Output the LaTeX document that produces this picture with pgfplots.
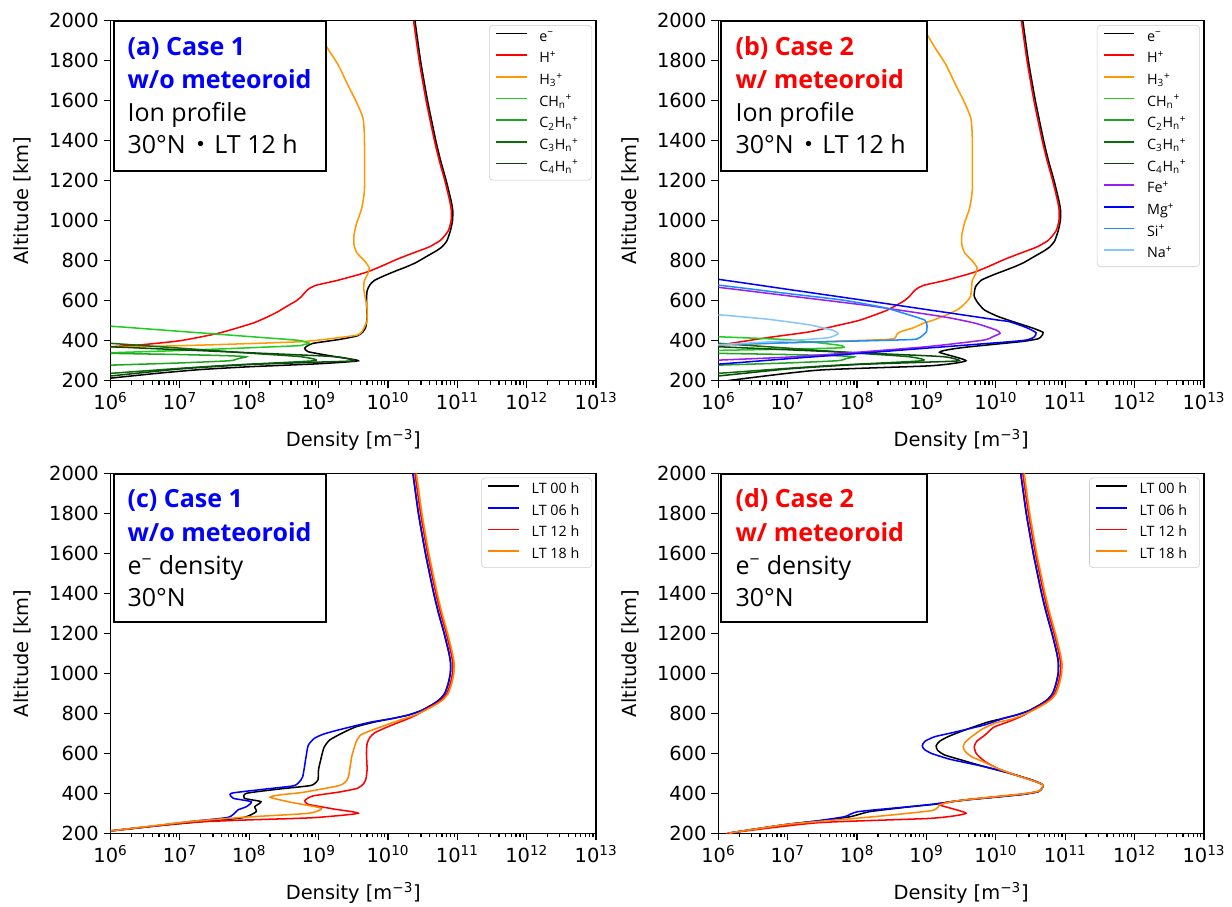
\documentclass[border=0pt]{standalone}
\usepackage{fontspec}
\setmainfont{DejaVu Sans}
\newfontfamily\bxfont{Open Sans}
\newfontfamily\cjkfont{Noto Sans CJK JP}
\usepackage{pgfplots}
\pgfplotsset{compat=1.18}
\definecolor{cH3}{HTML}{FF9900}
\definecolor{cCH}{HTML}{22CC22}
\definecolor{cC2}{HTML}{1FA51F}
\definecolor{cC3}{HTML}{0B6E0B}
\definecolor{cC4}{HTML}{0A4A0A}
\definecolor{cFe}{HTML}{9A1EF0}
\definecolor{cSi}{HTML}{1E8CFF}
\definecolor{cNa}{HTML}{88C6FA}
\definecolor{cLT}{HTML}{FF8800}
\newcommand\lga[1]{\makebox[33.5pt][l]{#1}}
\newcommand\lgc[1]{\makebox[39pt][l]{#1}}
\newcommand\sbs[1]{\textsubscript{#1}}
\newcommand\sps[1]{\textsuperscript{#1}}
\pgfkeys{/pgf/number format/.cd, assume math mode=true, 1000 sep={}}
\pgfplotsset{legend image code/.code={\draw[#1, line width=1.1pt] (0pt,3pt) -- (22pt,3pt);}}
\pgfplotsset{
 pnl/.style={
  scale only axis, width=349.6pt, height=259.2pt,
  xmin=1e6, xmax=1e13, ymin=200, ymax=2000,
  ytick={200,400,...,2000},
  scaled y ticks=false,
  tick align=outside, xtick pos=left, ytick pos=left,
  major tick length=5pt, minor tick length=3pt,
  every tick/.style={black, line width=0.9pt},
  axis line style={line width=1pt},
  tick label style={font=\fontsize{14}{16}\selectfont},
  label style={font=\fontsize{14}{16}\selectfont},
  xlabel={Density [m\sps{−3}]},
  ylabel={Altitude [km]},
  xlabel style={at={(axis description cs:0.5,-0.165)}, anchor=center},
  ylabel style={at={(axis description cs:-0.181,0.5)}, anchor=center},
  every axis plot/.append style={line width=1.1pt, smooth, tension=0.35},
  legend cell align=left,
  legend style={at={(0.9918,0.988)}, anchor=north east, draw=black!20,
    rounded corners=2.5pt, fill=white, font=\bxfont\fontsize{10.3}{12}\selectfont,
    inner xsep=4.3pt, inner ysep=4.5pt, row sep=6.8pt, column sep=8.6pt,
    nodes={inner sep=0pt, text height=6.8pt, text depth=2pt}},
 }
}
\begin{document}
\begin{tikzpicture}
\useasboundingbox (0,0) rectangle (887.04pt,653.04pt);
% ---------------- (a)
\begin{axis}[xmode=log, pnl, at={(79.56pt,378.9pt)}, anchor=south west,
  xtick={1e6,1e7,1e8,1e9,1e10,1e11,1e12,1e13},
  xticklabels={10\sps{6},10\sps{7},10\sps{8},10\sps{9},10\sps{10},10\sps{11},10\sps{12},10\sps{13}},
  minor xtick={2e6,3e6,4e6,5e6,6e6,7e6,8e6,9e6,2e7,3e7,4e7,5e7,6e7,7e7,8e7,9e7,2e8,3e8,4e8,5e8,6e8,7e8,8e8,9e8,2e9,3e9,4e9,5e9,6e9,7e9,8e9,9e9,2e10,3e10,4e10,5e10,6e10,7e10,8e10,9e10,2e11,3e11,4e11,5e11,6e11,7e11,8e11,9e11,2e12,3e12,4e12,5e12,6e12,7e12,8e12,9e12}]
\addplot[black] coordinates {(2.45e10,2000) (2.95e10,1800) (3.72e10,1600) (4.9e10,1400) (5.75e10,1300) (6.92e10,1200) (8.13e10,1100) (8.6e10,1050) (8.51e10,1000) (7.94e10,950) (7.08e10,900) (6.03e10,870) (5.01e10,850) (3.98e10,830) (3.16e10,810) (2.51e10,790) (1.86e10,770) (1.32e10,750) (9.55e9,730) (6.46e9,703) (5.5e9,680) (5.01e9,650) (4.9e9,600) (5.0e9,520) (4.8e9,470) (4.37e9,445) (3.63e9,425) (2.04e9,407) (8.32e8,387) (6.6e8,370) (6.31e8,362) (7.08e8,345) (1.62e9,322) (3.72e9,300) (1.0e9,285) (1.0e8,270) (2.0e7,256) (5e6,238) (1e6,213) (6e5,206)};
\addlegendentry{\lga{e\sps{−}}}
\addplot[red] coordinates {(2.34e10,2000) (2.82e10,1800) (3.55e10,1600) (4.68e10,1400) (5.5e10,1300) (6.61e10,1200) (7.76e10,1100) (8.2e10,1050) (8.13e10,1000) (7.41e10,950) (5.75e10,903) (3.98e10,870) (2.82e10,850) (1.91e10,828) (1.26e10,803) (8.32e9,775) (5.13e9,745) (3.31e9,725) (1.78e9,700) (9.33e8,678) (7.24e8,660) (6.31e8,640) (5.62e8,620) (4.79e8,600) (3.8e8,580) (2.34e8,537) (1.17e8,490) (3.55e7,437) (1.0e7,400) (2.82e6,380) (1e6,370) (5e5,366)};
\addlegendentry{\lga{H\sps{+}}}
\addplot[cH3] coordinates {(7.08e8,2000) (1.05e9,1924) (1.29e9,1872) (1.91e9,1780) (2.63e9,1680) (3.55e9,1590) (4.37e9,1513) (4.57e9,1430) (4.6e9,1300) (4.57e9,1147) (4.17e9,1060) (3.55e9,990) (3.24e9,930) (3.24e9,880) (3.55e9,840) (4.57e9,800) (5.37e9,765) (5.13e9,735) (4.57e9,700) (4.47e9,660) (4.68e9,620) (5.0e9,560) (5.0e9,503) (4.6e9,470) (4.2e9,445) (3.55e9,428) (1.62e9,412) (5.37e8,395) (1.95e7,378) (1e6,367) (5e5,364)};
\addlegendentry{\lga{H\sbs{3}\sps{+}}}
\addplot[cCH] coordinates {(5e5,480) (1e6,473) (1e7,447) (1e8,421) (4.79e8,403) (6.31e8,395) (7.41e8,387) (6.03e8,381) (5.01e8,375) (6.31e7,362) (7.94e6,350) (1e6,340) (5e5,337)};
\addlegendentry{\lga{CH\sbs{n}\sps{+}}}
\addplot[cC2] coordinates {(5e5,339) (1e6,337) (1e7,331) (5e7,325) (9.1e7,320) (7e7,311) (5.2e7,300) (1e7,289) (1e6,278) (5e5,275)};
\addlegendentry{\lga{C\sbs{2}H\sbs{n}\sps{+}}}
\addplot[cC3] coordinates {(5e5,392) (1e6,387) (1e7,363) (1e8,338) (5.6e8,320) (8.7e8,300) (5.2e7,278) (1e7,262) (1e6,237) (5e5,232)};
\addlegendentry{\lga{C\sbs{3}H\sbs{n}\sps{+}}}
\addplot[cC4] coordinates {(5e5,374) (1e6,370) (1e7,355) (1e8,340) (1e9,325) (2.0e9,318) (3.3e9,300) (1e9,293) (1e8,281) (1e7,259) (1e6,224) (5e5,219)};
\addlegendentry{\lga{C\sbs{4}H\sbs{n}\sps{+}}}
\end{axis}
% ---------------- (b)
\begin{axis}[xmode=log, pnl, at={(517.2pt,378.9pt)}, anchor=south west,
  xtick={1e6,1e7,1e8,1e9,1e10,1e11,1e12,1e13},
  xticklabels={10\sps{6},10\sps{7},10\sps{8},10\sps{9},10\sps{10},10\sps{11},10\sps{12},10\sps{13}},
  minor xtick={2e6,3e6,4e6,5e6,6e6,7e6,8e6,9e6,2e7,3e7,4e7,5e7,6e7,7e7,8e7,9e7,2e8,3e8,4e8,5e8,6e8,7e8,8e8,9e8,2e9,3e9,4e9,5e9,6e9,7e9,8e9,9e9,2e10,3e10,4e10,5e10,6e10,7e10,8e10,9e10,2e11,3e11,4e11,5e11,6e11,7e11,8e11,9e11,2e12,3e12,4e12,5e12,6e12,7e12,8e12,9e12}]
\addplot[black] coordinates {(2.45e10,2000) (2.95e10,1800) (3.72e10,1600) (4.9e10,1400) (5.75e10,1300) (6.92e10,1200) (8.13e10,1100) (8.6e10,1050) (8.51e10,1000) (7.94e10,950) (7.08e10,900) (6.03e10,870) (5.01e10,850) (3.98e10,830) (3.16e10,810) (2.51e10,790) (1.86e10,770) (1.32e10,750) (9.3e9,730) (6.2e9,703) (5.1e9,670) (4.9e9,640) (4.9e9,620) (5.5e9,590) (6.9e9,553) (1.1e10,520) (2.1e10,487) (3.5e10,462) (4.8e10,442) (4.6e10,425) (4.1e10,410) (2.5e10,397) (1.0e10,383) (4.0e9,369) (2.3e9,358) (1.55e9,342) (3.72e9,300) (1.17e9,275) (2.75e7,253) (1.55e6,203) (1.45e6,199)};
\addlegendentry{\lga{e\sps{−}}}
\addplot[red] coordinates {(2.34e10,2000) (2.82e10,1800) (3.55e10,1600) (4.68e10,1400) (5.5e10,1300) (6.61e10,1200) (7.76e10,1100) (8.2e10,1050) (8.13e10,1000) (7.41e10,950) (5.75e10,903) (3.98e10,870) (2.82e10,850) (1.91e10,828) (1.26e10,803) (8.32e9,775) (5.13e9,745) (3.31e9,725) (1.78e9,700) (9.33e8,678) (7.24e8,660) (6.31e8,640) (5.62e8,620) (4.79e8,600) (3.8e8,580) (2.6e8,550) (1.1e8,503) (5e7,475) (2.1e7,445) (5e6,415) (1e6,378) (5e5,374)};
\addlegendentry{\lga{H\sps{+}}}
\addplot[cH3] coordinates {(7.08e8,2000) (1.05e9,1924) (1.29e9,1872) (1.91e9,1780) (2.63e9,1680) (3.55e9,1590) (4.37e9,1513) (4.57e9,1430) (4.6e9,1300) (4.57e9,1147) (4.17e9,1060) (3.55e9,990) (3.24e9,930) (3.24e9,880) (3.55e9,840) (4.57e9,800) (5.37e9,765) (5.13e9,735) (4.57e9,700) (4.47e9,660) (4.3e9,620) (3.8e9,595) (3.0e9,562) (2.2e9,537) (1.3e9,505) (9e8,487) (6.5e8,465) (4.2e8,445) (3.7e8,430) (3.5e8,412) (2.2e8,405) (1e7,390) (1e6,378) (5e5,375)};
\addlegendentry{\lga{H\sbs{3}\sps{+}}}
\addplot[cCH] coordinates {(5e5,424) (1e6,420) (1e7,405) (5.4e7,378) (6.0e7,365) (1e7,358) (1e6,352) (5e5,350)};
\addlegendentry{\lga{CH\sbs{n}\sps{+}}}
\addplot[cC2] coordinates {(5e5,339) (1e6,337) (1e7,331) (5e7,325) (9.1e7,320) (7e7,311) (5.2e7,300) (1e7,289) (1e6,278) (5e5,275)};
\addlegendentry{\lga{C\sbs{2}H\sbs{n}\sps{+}}}
\addplot[cC3] coordinates {(5e5,392) (1e6,387) (1e7,363) (1e8,338) (5.6e8,320) (8.7e8,300) (5.2e7,278) (1e7,262) (1e6,237) (5e5,232)};
\addlegendentry{\lga{C\sbs{3}H\sbs{n}\sps{+}}}
\addplot[cC4] coordinates {(5e5,374) (1e6,370) (1e7,355) (1e8,340) (1e9,325) (2.0e9,318) (3.0e9,300) (1e9,293) (1e8,281) (1e7,259) (1e6,224) (5e5,219)};
\addlegendentry{\lga{C\sbs{4}H\sbs{n}\sps{+}}}
\addplot[cFe] coordinates {(5e5,672) (1e6,667) (1e7,625) (1e8,583) (1.9e8,570) (1.74e9,520) (5e9,488) (1.02e10,453) (1.15e10,437) (9e9,420) (6.6e9,403) (1e9,370) (6.3e7,337) (1e7,318) (1e6,303) (5e5,298)};
\addlegendentry{\lga{Fe\sps{+}}}
\addplot[blue] coordinates {(5e5,713) (1e6,707) (1e7,657) (1e8,607) (1e9,556) (1e10,505) (1.58e10,495) (2.8e10,465) (3.8e10,440) (3.6e10,420) (2.9e10,405) (1.58e10,395) (1e9,363) (1e8,336) (1e7,310) (1e6,283) (5e5,279)};
\addlegendentry{\lga{Mg\sps{+}}}
\addplot[cSi] coordinates {(5e5,682) (1e6,678) (1e7,636) (6.3e7,603) (2.5e8,565) (5.75e8,528) (9.5e8,503) (1.02e9,475) (1.0e9,445) (8.9e8,428) (7.2e8,408) (3.2e8,403) (1e7,390) (1e6,380) (5e5,377)};
\addlegendentry{\lga{Si\sps{+}}}
\addplot[cNa] coordinates {(5e5,535) (1e6,530) (5e6,508) (2e7,480) (4.5e7,452) (5.3e7,435) (3.8e7,415) (1e7,400) (1e6,380) (5e5,377)};
\addlegendentry{\lga{Na\sps{+}}}
\end{axis}
% ---------------- (c)
\begin{axis}[xmode=log, pnl, at={(79.56pt,53.06pt)}, anchor=south west,
  xtick={1e6,1e7,1e8,1e9,1e10,1e11,1e12,1e13},
  xticklabels={10\sps{6},10\sps{7},10\sps{8},10\sps{9},10\sps{10},10\sps{11},10\sps{12},10\sps{13}},
  minor xtick={2e6,3e6,4e6,5e6,6e6,7e6,8e6,9e6,2e7,3e7,4e7,5e7,6e7,7e7,8e7,9e7,2e8,3e8,4e8,5e8,6e8,7e8,8e8,9e8,2e9,3e9,4e9,5e9,6e9,7e9,8e9,9e9,2e10,3e10,4e10,5e10,6e10,7e10,8e10,9e10,2e11,3e11,4e11,5e11,6e11,7e11,8e11,9e11,2e12,3e12,4e12,5e12,6e12,7e12,8e12,9e12}]
\addplot[black] coordinates {(2.29e10,2000) (2.75e10,1800) (3.47e10,1600) (4.57e10,1400) (5.37e10,1300) (6.46e10,1200) (7.59e10,1100) (8.0e10,1050) (7.94e10,1000) (7.41e10,950) (6.61e10,900) (5.62e10,870) (4.68e10,850) (3.72e10,830) (2.95e10,812) (2.0e10,792) (1.2e10,775) (6.5e9,757) (3.5e9,733) (2.3e9,705) (1.45e9,667) (1.2e9,630) (1.1e9,583) (1.0e9,520) (9.8e8,467) (8.5e8,445) (7.1e8,437) (2.5e8,420) (9.1e7,400) (8.5e7,375) (1.48e8,358) (1.2e8,333) (1.26e8,308) (8.1e7,278) (2.0e7,258) (4e6,235) (1e6,212) (6e5,205)};
\addlegendentry{\lgc{LT 00 h}}
\addplot[blue] coordinates {(2.29e10,2000) (2.75e10,1800) (3.47e10,1600) (4.57e10,1400) (5.37e10,1300) (6.46e10,1200) (7.59e10,1100) (8.0e10,1050) (7.94e10,1000) (7.41e10,950) (6.61e10,900) (5.62e10,870) (4.68e10,850) (3.72e10,830) (2.95e10,812) (2.0e10,792) (1.2e10,775) (5.5e9,755) (2.1e9,720) (1.2e9,697) (8.7e8,675) (7.1e8,640) (6.6e8,583) (5.9e8,483) (5.2e8,455) (4.3e8,437) (1.6e8,420) (5.5e7,400) (5.9e7,375) (1.07e8,358) (9.1e7,333) (6.9e7,317) (5.0e7,280) (1.5e7,260) (4e6,235) (1e6,212) (6e5,205)};
\addlegendentry{\lgc{LT 06 h}}
\addplot[red] coordinates {(2.45e10,2000) (2.95e10,1800) (3.72e10,1600) (4.9e10,1400) (5.75e10,1300) (6.92e10,1200) (8.13e10,1100) (8.6e10,1050) (8.51e10,1000) (7.94e10,950) (7.08e10,900) (6.03e10,870) (5.01e10,850) (3.98e10,830) (3.16e10,810) (2.51e10,790) (1.86e10,770) (1.32e10,750) (9.55e9,730) (6.46e9,703) (5.5e9,680) (5.01e9,650) (4.9e9,600) (5.0e9,520) (4.8e9,470) (4.37e9,445) (3.63e9,425) (2.04e9,407) (8.32e8,387) (6.6e8,370) (6.31e8,362) (7.08e8,345) (1.62e9,322) (3.72e9,300) (8.3e8,278) (8e7,266) (1.5e7,255) (4e6,235) (1e6,212) (6e5,205)};
\addlegendentry{\lgc{LT 12 h}}
\addplot[cLT] coordinates {(2.57e10,2000) (3.09e10,1800) (3.89e10,1600) (5.13e10,1400) (6.03e10,1300) (7.24e10,1200) (8.51e10,1100) (9.0e10,1050) (8.91e10,1000) (8.32e10,950) (7.41e10,900) (6.31e10,870) (5.25e10,850) (4.17e10,830) (3.31e10,812) (2.4e10,790) (1.6e10,770) (1.0e10,745) (5.8e9,715) (4.07e9,692) (3.5e9,660) (3.3e9,633) (3.0e9,583) (2.7e9,483) (2.4e9,455) (1.9e9,437) (6e8,405) (2.75e8,392) (2.0e8,380) (4.0e8,355) (1.1e9,325) (7.1e8,300) (1.0e8,282) (1.5e7,260) (4e6,237) (1e6,212) (6e5,205)};
\addlegendentry{\lgc{LT 18 h}}
\end{axis}
% ---------------- (d)
\begin{axis}[xmode=log, pnl, at={(517.2pt,53.06pt)}, anchor=south west,
  xtick={1e6,1e7,1e8,1e9,1e10,1e11,1e12,1e13},
  xticklabels={10\sps{6},10\sps{7},10\sps{8},10\sps{9},10\sps{10},10\sps{11},10\sps{12},10\sps{13}},
  minor xtick={2e6,3e6,4e6,5e6,6e6,7e6,8e6,9e6,2e7,3e7,4e7,5e7,6e7,7e7,8e7,9e7,2e8,3e8,4e8,5e8,6e8,7e8,8e8,9e8,2e9,3e9,4e9,5e9,6e9,7e9,8e9,9e9,2e10,3e10,4e10,5e10,6e10,7e10,8e10,9e10,2e11,3e11,4e11,5e11,6e11,7e11,8e11,9e11,2e12,3e12,4e12,5e12,6e12,7e12,8e12,9e12}]
\addplot[black] coordinates {(2.29e10,2000) (2.75e10,1800) (3.47e10,1600) (4.57e10,1400) (5.37e10,1300) (6.46e10,1200) (7.59e10,1100) (8.0e10,1050) (7.94e10,1000) (7.41e10,950) (6.61e10,900) (5.62e10,870) (4.68e10,850) (3.72e10,830) (2.95e10,812) (2.0e10,792) (1.3e10,775) (7.5e9,755) (3.5e9,715) (2.04e9,683) (1.55e9,660) (1.38e9,638) (1.45e9,615) (1.82e9,592) (3.3e9,565) (6.9e9,533) (1.6e10,500) (3.3e10,467) (4.5e10,448) (4.8e10,438) (4.6e10,423) (4.1e10,408) (2.5e10,395) (1.0e10,381) (4.0e9,368) (2.3e9,358) (1.3e9,345) (5e8,330) (1.5e8,308) (8e7,283) (3.0e7,263) (1e7,245) (3.5e6,222) (1.55e6,203) (1.45e6,199)};
\addlegendentry{\lgc{LT 00 h}}
\addplot[blue] coordinates {(2.29e10,2000) (2.75e10,1800) (3.47e10,1600) (4.57e10,1400) (5.37e10,1300) (6.46e10,1200) (7.59e10,1100) (8.0e10,1050) (7.94e10,1000) (7.41e10,950) (6.61e10,900) (5.62e10,870) (4.68e10,850) (3.72e10,830) (2.95e10,812) (2.0e10,792) (1.3e10,775) (6.9e9,742) (2.5e9,705) (1.32e9,683) (9.5e8,660) (8.7e8,638) (9.3e8,620) (1.17e9,600) (2.2e9,570) (6.9e9,533) (1.6e10,500) (3.24e10,467) (4.5e10,448) (4.8e10,438) (4.6e10,423) (4.1e10,408) (2.5e10,395) (1.0e10,381) (4.0e9,368) (2.3e9,358) (1.2e9,345) (4.5e8,330) (1.02e8,308) (6.6e7,283) (2.75e7,263) (1e7,245) (3.5e6,222) (1.55e6,203) (1.45e6,199)};
\addlegendentry{\lgc{LT 06 h}}
\addplot[red] coordinates {(2.45e10,2000) (2.95e10,1800) (3.72e10,1600) (4.9e10,1400) (5.75e10,1300) (6.92e10,1200) (8.13e10,1100) (8.6e10,1050) (8.51e10,1000) (7.94e10,950) (7.08e10,900) (6.03e10,870) (5.01e10,850) (3.98e10,830) (3.16e10,810) (2.51e10,790) (1.86e10,770) (1.32e10,750) (9.3e9,730) (6.9e9,690) (5.3e9,660) (4.9e9,633) (5.2e9,600) (6.9e9,560) (1.1e10,522) (2.1e10,487) (3.5e10,462) (4.8e10,442) (4.6e10,425) (4.1e10,410) (2.5e10,397) (1.0e10,383) (4.0e9,369) (2.3e9,358) (1.55e9,342) (3.72e9,300) (1.17e9,275) (2.75e7,253) (1.55e6,203) (1.45e6,199)};
\addlegendentry{\lgc{LT 12 h}}
\addplot[cLT] coordinates {(2.57e10,2000) (3.09e10,1800) (3.89e10,1600) (5.13e10,1400) (6.03e10,1300) (7.24e10,1200) (8.51e10,1100) (9.0e10,1050) (8.91e10,1000) (8.32e10,950) (7.41e10,900) (6.31e10,870) (5.25e10,850) (4.17e10,830) (3.31e10,812) (2.4e10,790) (1.65e10,770) (1.0e10,752) (6.3e9,720) (4.47e9,683) (3.6e9,655) (3.39e9,633) (3.6e9,610) (4.47e9,583) (6.9e9,555) (1.1e10,522) (2.1e10,487) (3.5e10,462) (4.8e10,442) (4.6e10,425) (4.1e10,410) (2.5e10,397) (1.0e10,383) (4.0e9,369) (2.3e9,358) (1.55e9,342) (1.48e9,333) (1.17e9,313) (2e8,285) (3.5e7,262) (1e7,245) (3.5e6,222) (1.55e6,203) (1.45e6,199)};
\addlegendentry{\lgc{LT 18 h}}
\end{axis}
% ---------------- text boxes
\tikzset{bx/.style={line width=1.44pt, fill=white},
 t1/.style={anchor=base west, inner sep=0pt, font=\bxfont\bfseries\fontsize{18}{22}\selectfont},
 t2/.style={anchor=base west, inner sep=0pt, font=\bxfont\fontsize{18}{22}\selectfont}}
\draw[bx] (82.08pt,529.9pt) rectangle (234.94pt,637.7pt);
\node[t1,text=blue] at (91.66pt,613.2pt) {(a) Case 1};
\node[t1,text=blue] at (91.66pt,589.2pt) {w/o meteoroid};
\node[t2] at (91.66pt,565.2pt) {Ion profile};
\node[t2] at (91.66pt,542.2pt) {30°N\hspace{0.1em}{\cjkfont ・}\hspace{0.05em}LT 12 h};
\draw[bx] (519.3pt,529.9pt) rectangle (667.4pt,637.7pt);
\node[t1,text=red] at (529.4pt,613.2pt) {(b) Case 2};
\node[t1,text=red] at (529.4pt,589.2pt) {w/ meteoroid};
\node[t2] at (529.4pt,565.2pt) {Ion profile};
\node[t2] at (529.4pt,542.2pt) {30°N\hspace{0.1em}{\cjkfont ・}\hspace{0.05em}LT 12 h};
\draw[bx] (82.08pt,205.2pt) rectangle (234.94pt,311.8pt);
\node[t1,text=blue] at (91.66pt,287.3pt) {(c) Case 1};
\node[t1,text=blue] at (91.66pt,263.2pt) {w/o meteoroid};
\node[t2] at (91.66pt,239.3pt) {e\sps{−} density};
\node[t2] at (91.66pt,216.2pt) {30°N};
\draw[bx] (519.3pt,205.2pt) rectangle (667.4pt,311.8pt);
\node[t1,text=red] at (529.4pt,287.3pt) {(d) Case 2};
\node[t1,text=red] at (529.4pt,263.2pt) {w/ meteoroid};
\node[t2] at (529.4pt,239.3pt) {e\sps{−} density};
\node[t2] at (529.4pt,216.2pt) {30°N};
\end{tikzpicture}
\end{document}
